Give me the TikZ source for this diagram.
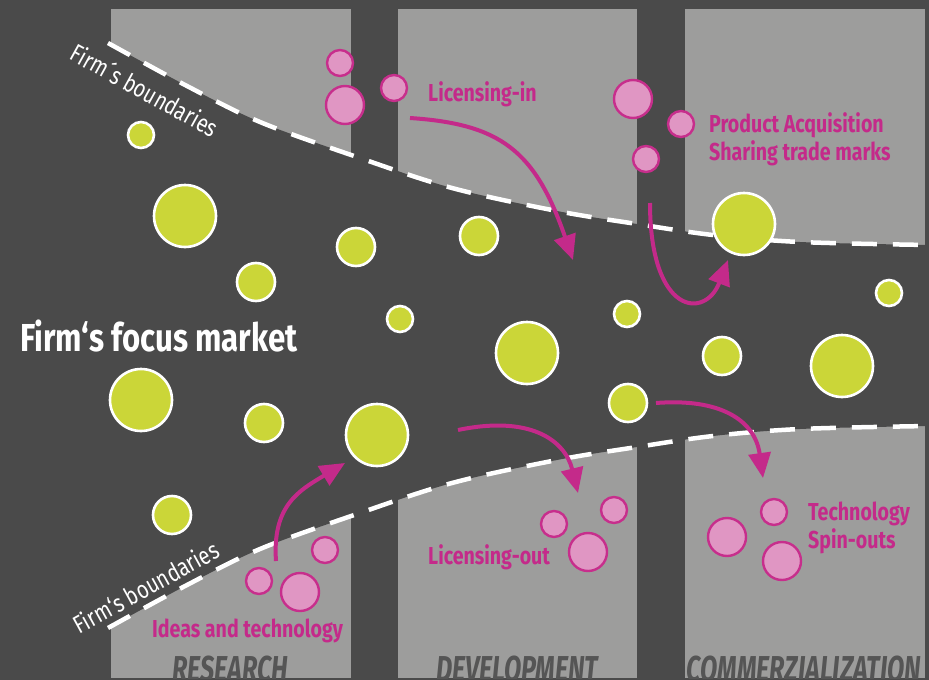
\documentclass[tikz,border=0pt]{standalone}
\usepackage{fontspec}
\setmainfont{Fira Sans}
\newfontfamily\narrowfont[FakeStretch=0.8]{Fira Sans}
\newfontfamily\tightfont[FakeStretch=0.7]{Fira Sans}
\usetikzlibrary{arrows.meta}
\definecolor{bgdark}{HTML}{4A4A4A}
\definecolor{colgray}{HTML}{9D9D9C}
\definecolor{lime}{HTML}{CBD638}
\definecolor{rosefill}{HTML}{E096C3}
\definecolor{roseline}{HTML}{C72E8C}
\definecolor{flowpink}{HTML}{C42A8A}
\definecolor{phasegray}{HTML}{555555}
\begin{document}
\begin{tikzpicture}[x=1pt,y=-1pt,
  market/.style={circle, fill=lime, draw=white, line width=2.6pt, inner sep=0pt, minimum size=#1},
  partner/.style={circle, fill=rosefill, draw=roseline, line width=2.4pt, inner sep=0pt, minimum size=#1},
  flow/.style={draw=flowpink, line width=4pt, -{Triangle[length=25pt,width=22pt]}},
  boundary/.style={draw=white, line width=4.5pt, dash pattern=on 25pt off 16pt},
  pinklabel/.style={text=flowpink, font=\narrowfont\bfseries\fontsize{24.5}{28}\selectfont, inner sep=0pt, align=left},
  bordertext/.style={text=white, font=\narrowfont\fontsize{25}{28}\selectfont, inner sep=0pt},
  phase/.style={text=phasegray, font=\tightfont\bfseries\itshape\fontsize{36}{40}\selectfont, inner sep=0pt, anchor=base},
  column/.style={fill=colgray}
]
% background
\fill[bgdark] (0,0) rectangle (929,680);
\useasboundingbox (0,0) rectangle (929,680);

% three phase columns
\fill[column] (111,9) rectangle (351,678);
\fill[column] (398,9) rectangle (637,678);
\fill[column] (685,9) rectangle (925,678);

% phase names, cut off at the bottom edge of the columns
\begin{scope}
\clip (0,0) rectangle (929,678);
\node[phase] (research) at (230,681) {RESEARCH};
\node[phase] (development) at (517,681) {DEVELOPMENT};
\node[phase] (commercial) at (804,681) {COMMERZIALIZATION};
\end{scope}

% the firm's market band between the two boundaries
\fill[bgdark] plot[smooth, tension=0.55] coordinates {(108,43) (187,86) (260,122) (357,157) (452,188) (557,211) (637,224) (713,235) (800,242) (929,245)}
  -- (935,245) -- (935,426)
  -- plot[smooth, tension=0.55] coordinates {(929,426) (800,429) (713,436) (637,447) (557,460) (452,483) (357,514) (260,549) (187,585) (108,628)}
  -- cycle;

% firm boundaries
\draw[boundary] plot[smooth, tension=0.55] coordinates {(108,43) (187,86) (260,122) (357,157) (452,188) (557,211) (637,224) (713,235) (800,242) (929,245)};
\draw[boundary] plot[smooth, tension=0.55] coordinates {(108,628) (187,585) (260,549) (357,514) (452,483) (557,460) (637,447) (713,436) (800,429) (929,426)};

\node[bordertext, rotate=-29] (topborder) at (145,90) {Firm´s boundaries};
\node[bordertext, rotate=29] (botborder) at (146,587) {Firm‘s boundaries};

% market players
\node[market=26pt] (m1) at (141,135) {};
\node[market=62pt] (m2) at (185,216) {};
\node[market=38pt] (m3) at (256,282) {};
\node[market=38pt] (m4) at (356,247) {};
\node[market=38pt] (m5) at (479,236) {};
\node[market=26pt] (m6) at (400,319) {};
\node[market=62pt] (m7) at (141,400) {};
\node[market=38pt] (m8) at (264,423) {};
\node[market=62pt] (m9) at (377,435) {};
\node[market=62pt] (m10) at (527,353) {};
\node[market=26pt] (m11) at (627,314) {};
\node[market=38pt] (m12) at (722,356) {};
\node[market=62pt] (m13) at (842,366) {};
\node[market=26pt] (m14) at (889,293) {};
\node[market=38pt] (m15) at (628,403) {};
\node[market=38pt] (m16) at (172,515) {};
\node[market=62pt] (m17) at (744,224) {};

% external partners
\node[partner=26pt] (p1) at (340,63) {};
\node[partner=38pt] (p2) at (345,105) {};
\node[partner=26pt] (p3) at (394,88) {};
\node[partner=38pt] (p4) at (633,99) {};
\node[partner=26pt] (p5) at (681,124) {};
\node[partner=26pt] (p6) at (646,159) {};
\node[partner=26pt] (p7) at (325,550) {};
\node[partner=26pt] (p8) at (259,581) {};
\node[partner=38pt] (p9) at (300,592) {};
\node[partner=26pt] (p10) at (554,524) {};
\node[partner=26pt] (p11) at (614,510) {};
\node[partner=38pt] (p12) at (588,552) {};
\node[partner=38pt] (p13) at (727,537) {};
\node[partner=26pt] (p14) at (774,512) {};
\node[partner=38pt] (p15) at (782,561) {};

% flow labels (base anchor sits on the last line)
\node[pinklabel, anchor=base west] (licin) at (428,101) {Licensing-in};
\node[pinklabel, anchor=base west] (prodacq) at (709,160) {Product Acquisition\\Sharing trade marks};
\node[pinklabel, anchor=base west] (licout) at (428,564) {Licensing-out};
\node[pinklabel, anchor=base west] (spinout) at (808,548) {Technology\\Spin-outs};
\node[pinklabel, anchor=base west] (ideas) at (152,637) {Ideas and technology};

\node[text=white, font=\narrowfont\bfseries\fontsize{39}{42}\selectfont, inner sep=0pt, anchor=base west] (focus) at (20,351) {Firm‘s focus market};

% flow arrows
\coordinate (a1s) at (410,118);
\coordinate (a1e) at (573,260);
\coordinate (a2s) at (650,203);
\coordinate (a2e) at (728,260);
\coordinate (a3s) at (276,561);
\coordinate (a3e) at (345,463);
\coordinate (a4s) at (458,430);
\coordinate (a4e) at (578,493);
\coordinate (a5s) at (656,403);
\coordinate (a5e) at (763,478);

\draw[flow] (a1s) .. controls (500,124) and (535,150) .. (a1e);
\draw[flow] (a2s) .. controls (650,315) and (705,320) .. (a2e);
\draw[flow] (a3s) .. controls (272,505) and (300,490) .. (a3e);
\draw[flow] (a4s) .. controls (530,415) and (565,440) .. (a4e);
\draw[flow] (a5s) .. controls (720,398) and (755,420) .. (a5e);
\end{tikzpicture}
\end{document}
